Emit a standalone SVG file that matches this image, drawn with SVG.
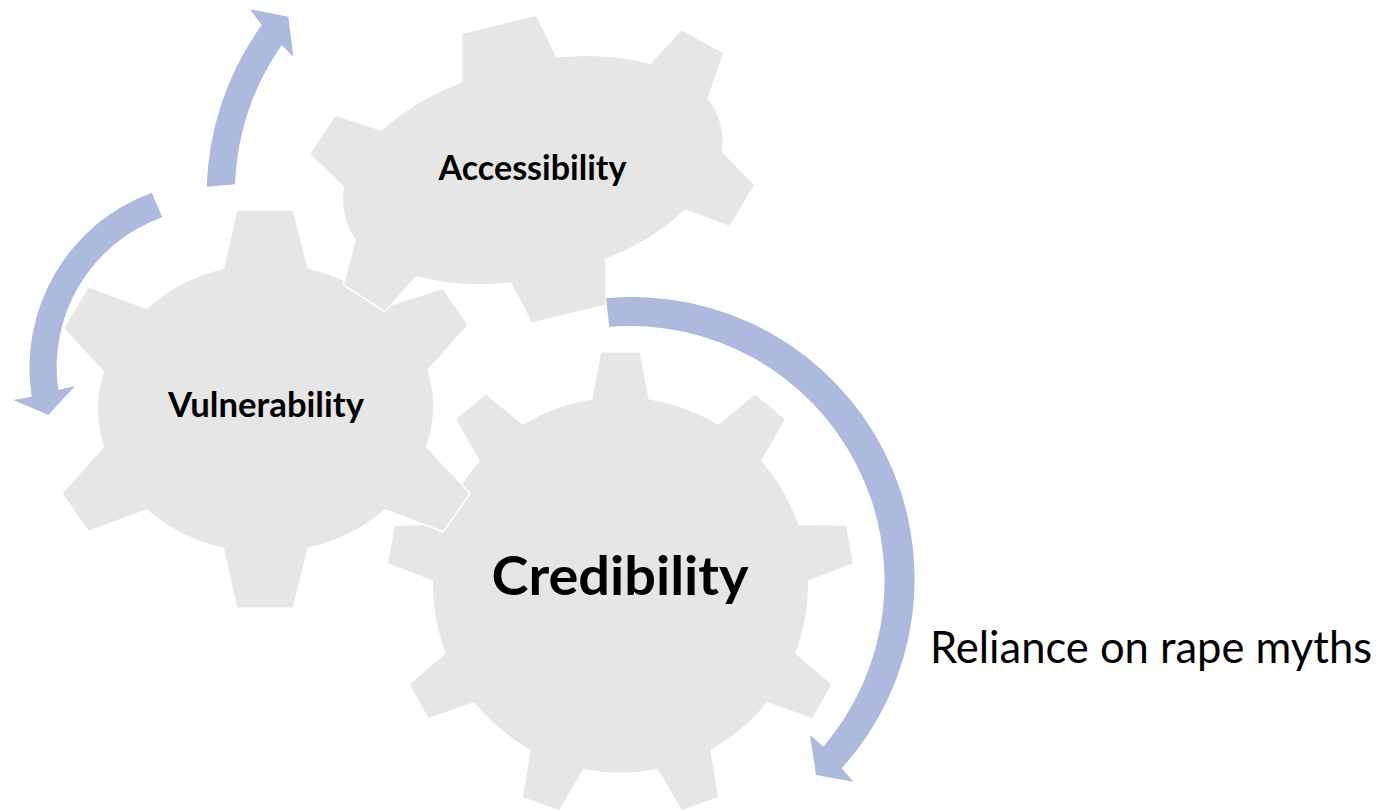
<svg xmlns="http://www.w3.org/2000/svg" xmlns:xlink="http://www.w3.org/1999/xlink" width="1389" height="811" viewBox="0 0 1389 811">
<style>
.gear{fill:#e6e6e6;stroke:#ffffff;stroke-width:1.6;stroke-linejoin:miter}
.gear-under{fill:#e6e6e6;stroke:#ffffff;stroke-width:3.2}
.gear-top{fill:#e6e6e6;stroke:none}
.arrow{fill:#adb9dd;stroke:none}
.lbl{font-family:Lato,"Liberation Sans","DejaVu Sans",sans-serif;font-weight:bold;fill:#000;text-anchor:middle}
.plain{font-family:Lato,"Liberation Sans","DejaVu Sans",sans-serif;font-weight:normal;fill:#000}
</style>
<defs>
<path id="c9t" d="M-30,-175 L-19.2,-232.5 L19.2,-232.5 L30,-175 Z"/>
<g id="c9">
<circle r="187.5"/>
<use href="#c9t" xlink:href="#c9t"/>
<use href="#c9t" xlink:href="#c9t" transform="rotate(40)"/>
<use href="#c9t" xlink:href="#c9t" transform="rotate(80)"/>
<use href="#c9t" xlink:href="#c9t" transform="rotate(120)"/>
<use href="#c9t" xlink:href="#c9t" transform="rotate(160)"/>
<use href="#c9t" xlink:href="#c9t" transform="rotate(200)"/>
<use href="#c9t" xlink:href="#c9t" transform="rotate(240)"/>
<use href="#c9t" xlink:href="#c9t" transform="rotate(280)"/>
<use href="#c9t" xlink:href="#c9t" transform="rotate(320)"/>
</g>
</defs>
<rect width="1389" height="811" fill="#ffffff"/>

<g id="credibility">
<g transform="translate(620.5,585)">
<use href="#c9" xlink:href="#c9" class="gear-under"/>
<use href="#c9" xlink:href="#c9" class="gear-top"/>
</g>
<text class="lbl" x="620" y="595" font-size="54" textLength="257" lengthAdjust="spacingAndGlyphs">Credibility</text>
</g>

<g id="vulnerability">
<path class="gear" d="M223.3,268.3 L236.7,210 L293.3,210 L308.3,268.3 A166,140 0 0 1 385,306.7 L443.3,288.3 L468.3,325 L428.3,370 A166,140 0 0 1 426.7,446.7 L470,493.3 L443.3,531.7 L385,510 A166,140 0 0 1 308.3,548.3 L293.3,608.3 L236.7,608.3 L223.3,548.3 A166,140 0 0 1 146.7,510 L88.3,531.7 L61.7,493.3 L103.3,446.7 A166,140 0 0 1 103.3,371.7 L63.3,328.3 L88.3,286.7 L146.7,308.3 A166,140 0 0 1 223.3,268.3 Z"/>
<text class="lbl" x="266" y="417" font-size="34" textLength="196" lengthAdjust="spacingAndGlyphs">Vulnerability</text>
</g>

<g id="accessibility">
<path class="gear" d="M461.7,81.7 L461.7,33.3 L536.7,15 L556.7,56.7 A190,115 -12 0 1 650,63.3 L681.7,29.3 L724,52.7 L708.3,98.3 A190,115 -12 0 1 722.7,151.7 L755,185 L730,226.7 L685,210 A190,115 -12 0 1 606,259.3 L606,305 L531.7,323.3 L510.7,283.3 A190,115 -12 0 1 416.7,276.7 L385,311.7 L343.3,285 L355,240 A190,115 -12 0 1 343.3,186.7 L309.3,154 L335,115 L381.7,130 A190,115 -12 0 1 461.7,81.7 Z"/>
<text class="lbl" x="532.5" y="180" font-size="34" textLength="188" lengthAdjust="spacingAndGlyphs">Accessibility</text>
</g>

<g id="connectors">
<path class="arrow" d="M206.7,186.7 A291.5,291.5 0 0 1 261.7,25 L250,9.3 L288.3,16.7 L293.3,56.7 L281.7,45 A264,264 0 0 0 235,184.3 Z"/>
<path class="arrow" d="M151.7,192.7 A186.5,186.5 0 0 0 31.7,396.7 L13.3,400 L48.3,415 L75,386 L58.3,390 A159,159 0 0 1 162.3,217.3 Z"/>
<path class="arrow" d="M606,298.3 A282,282 0 0 1 841.7,768.3 L853.3,781.7 L816,775 L810,735 L823.3,746.7 A255,255 0 0 0 609.3,326.7 Z"/>
</g>

<g id="label-reliance">
<text class="plain" x="930" y="663" font-size="44" textLength="442" lengthAdjust="spacingAndGlyphs">Reliance on rape myths</text>
</g>
</svg>
